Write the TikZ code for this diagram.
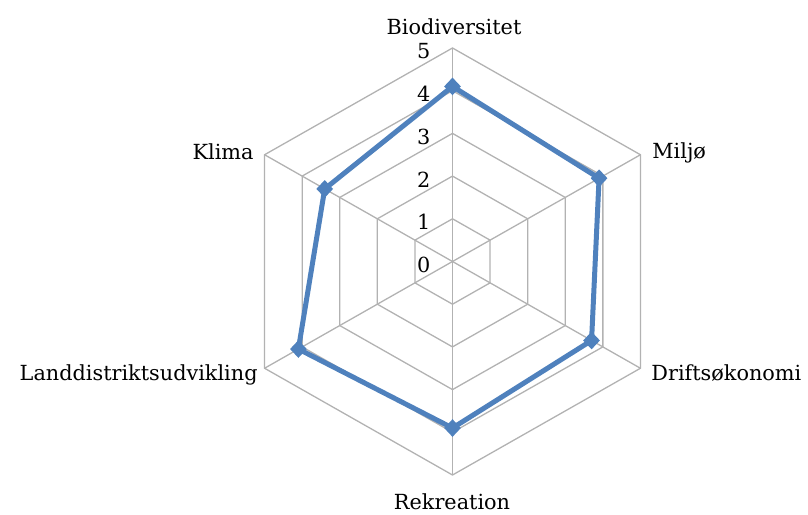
\documentclass[tikz,border=0pt]{standalone}
\usepackage{fontspec}
\setmainfont{DejaVu Serif}
\usetikzlibrary{shapes.geometric}
\definecolor{gridgray}{RGB}{178,178,178}
\definecolor{seriesblue}{RGB}{79,129,189}
\begin{document}
\begin{tikzpicture}[x=0.5pt, y=0.5pt]
    % Definizione stili
    \tikzstyle{gridline}=[draw=gridgray, line width=0.65pt]
    \tikzstyle{dataline}=[draw=seriesblue, line width=2.5pt, line join=round]
    \tikzstyle{marker}=[diamond, fill=seriesblue, inner sep=0pt, minimum width=8.5pt, minimum height=9pt]
    \tikzstyle{axislabel}=[inner sep=0pt, font=\fontsize{10.4}{12}\selectfont]
    \tikzstyle{ticklabel}=[anchor=east, inner sep=0pt, font=\fontsize{10.4}{12}\selectfont]

    \useasboundingbox (0,0) rectangle (808,514);

    \begin{scope}[shift={(226.25pt,126.25pt)}, x=21.7pt, y=21.35pt]
        % Griglia esagonale
        \foreach \lvl in {1,...,5}
            \draw[gridline] (90:\lvl) -- (30:\lvl) -- (-30:\lvl) -- (-90:\lvl) -- (-150:\lvl) -- (150:\lvl) -- cycle;
        % Raggi
        \foreach \ang in {90,30,-30,-90,-150,150}
            \draw[gridline] (0,0) -- (\ang:5);

        % Etichette della scala
        \foreach \lvl in {0,...,5}
            \node[ticklabel] (tick\lvl) at (-0.5,\lvl-0.08) {\lvl};

        % Punti della serie
        \node[marker] (pbio) at (90:4.1) {};
        \node[marker] (pmiljo) at (30:3.9) {};
        \node[marker] (pdrift) at (-30:3.7) {};
        \node[marker] (prekr) at (-90:3.9) {};
        \node[marker] (pland) at (-150:4.1) {};
        \node[marker] (pklima) at (150:3.4) {};

        % Linea della serie
        \draw[dataline] (pbio.center) -- (pmiljo.center) -- (pdrift.center) -- (prekr.center) -- (pland.center) -- (pklima.center) -- cycle;
    \end{scope}

    % Etichette degli assi
    \node[axislabel] (lbio) at (454,487) {Biodiversitet};
    \node[axislabel, anchor=west] (lmiljo) at (652,361) {Miljø};
    \node[axislabel, anchor=west] (ldrift) at (651,141) {Driftsøkonomi};
    \node[axislabel] (lrekr) at (452,12) {Rekreation};
    \node[axislabel, anchor=east] (lland) at (258,139) {Landdistriktsudvikling};
    \node[axislabel, anchor=east] (lklima) at (254,362) {Klima};
\end{tikzpicture}
\end{document}
